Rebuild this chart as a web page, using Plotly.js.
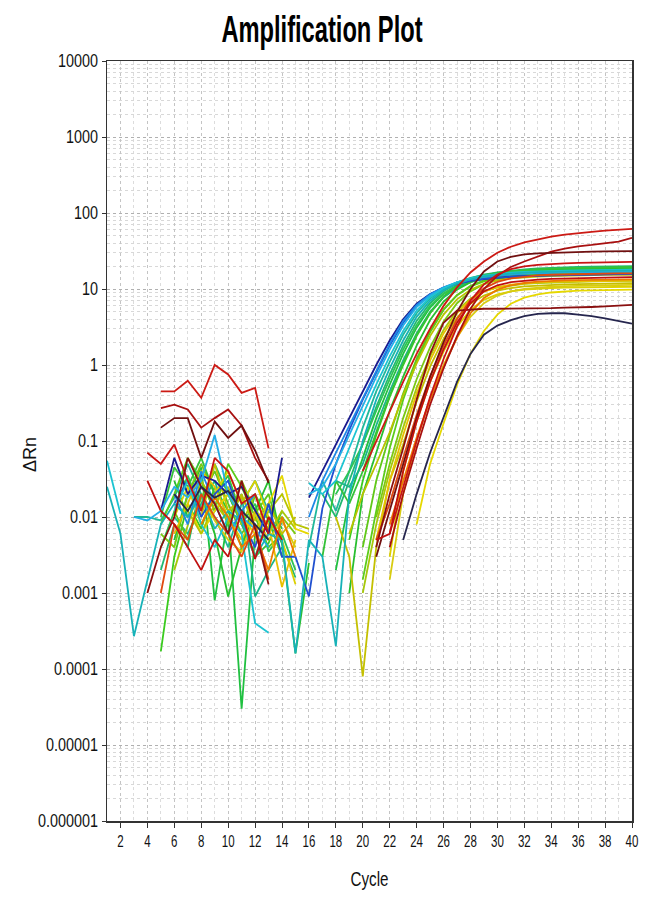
<!DOCTYPE html>
<html><head><meta charset="utf-8">
<script src="https://cdn.plot.ly/plotly-3.0.1.min.js"></script>
<style>html,body{margin:0;padding:0;background:#fff}#chart{width:653px;height:898px}</style>
</head><body><div id="chart"></div>
<script>
const _ = null;
const cycles = [1,2,3,4,5,6,7,8,9,10,11,12,13,14,15,16,17,18,19,20,21,22,23,24,25,26,27,28,29,30,31,32,33,34,35,36,37,38,39,40];
const xTickLabels = ['2','4','6','8','10','12','14','16','18','20','22','24','26','28','30','32','34','36','38','40'];
const yTickVals = [1e-6,1e-5,1e-4,1e-3,1e-2,1e-1,1,10,100,1000,10000];
const yTickText = ['0.000001','0.00001','0.0001','0.001','0.01','0.1','1','10','100','1000','10000'];

// ΔRn per well, cycles 1..40 (null = not plotted)
const w01 = [_,_,_,_,0.012,0.06,0.02,0.035,0.03,0.02, 0.025,0.012,0.006,0.06,_,0.018,0.04,0.09,0.2,0.46, 1.0,2.1,4.0,6.4,8.6,10.4,11.8,12.9,13.6,14.1, 14.5,14.8,15.0,15.2,15.3,15.4,15.5,15.6,15.7,15.8];
const w02 = [_,_,_,_,_,0.015,0.03,0.01,0.02,0.03, 0.009,0.004,0.015,0.003,0.003,0.0009,0.013,0.05,0.14,0.35, 0.8,1.8,3.6,6.0,8.3,10.2,11.7,12.8,13.6,14.1, 14.5,14.8,15.0,15.2,15.3,15.4,15.5,15.6,15.6,15.7];
const w03 = [_,_,_,_,_,0.02,0.008,0.04,0.015,0.006, 0.012,0.02,_,_,_,0.01,0.03,0.07,0.16,0.38, 0.85,1.9,3.8,6.2,8.5,10.5,12.2,13.4,14.3,15.0, 15.5,15.9,16.2,16.4,16.6,16.7,16.8,16.9,17.0,17.0];
const w04 = [_,_,0.01,0.009,0.012,0.025,0.018,0.03,0.12,0.02, 0.01,0.007,0.004,_,_,0.02,0.025,0.05,0.12,0.3, 0.7,1.6,3.3,5.8,8.2,10.4,12.2,13.6,14.6,15.3, 15.8,16.1,16.3,16.5,16.6,16.7,16.8,16.9,17.0,17.0];
const w05 = [0.055,0.011,_,_,_,0.012,0.03,0.008,0.004,0.01, 0.006,0.0004,0.0003,_,_,0.028,0.02,0.03,0.08,0.22, 0.55,1.3,2.8,5.2,7.8,10.2,12.2,13.8,15.0,15.8, 16.4,16.8,17.1,17.3,17.5,17.6,17.7,17.8,17.9,18.0];
const w06 = [0.025,0.006,0.00027,0.0015,0.008,0.015,0.01,0.02,0.007,0.012, 0.009,0.003,0.006,0.005,0.00016,0.005,0.003,0.0002,0.02,0.1, 0.35,0.9,2.1,4.3,7.0,9.6,11.8,13.4,14.6,15.4, 16.0,16.4,16.7,16.9,17.1,17.2,17.3,17.4,17.5,17.5];
const w07 = [_,_,0.01,0.01,0.009,0.018,0.05,0.02,0.01,0.004, 0.015,0.03,0.012,0.008,_,0.004,0.03,0.012,0.04,0.15, 0.45,1.1,2.5,4.8,7.5,10.0,12.2,14.0,15.3,16.2, 16.9,17.4,17.8,18.1,18.3,18.5,18.6,18.7,18.8,18.9];
const w08 = [_,_,_,_,0.002,0.008,0.004,0.03,0.012,0.02, 0.008,0.003,0.01,0.0045,0.0016,_,0.02,0.01,0.03,0.09, 0.28,0.75,1.8,3.8,6.5,9.3,11.8,13.8,15.4,16.6, 17.5,18.1,18.6,19.0,19.3,19.5,19.7,19.8,19.9,20.0];
const w09 = [_,_,_,_,_,0.005,0.02,0.045,0.0008,0.01, 0.00003,0.006,0.015,0.007,_,_,_,0.002,0.018,0.06, 0.2,0.55,1.4,3.1,5.7,8.6,11.2,13.3,14.9,16.0, 16.8,17.3,17.7,18.0,18.2,18.4,18.5,18.6,18.7,18.8];
const w10 = [_,_,_,_,0.00017,0.003,0.015,0.007,0.025,0.012, 0.004,0.02,0.009,0.003,_,_,_,_,0.005,0.03, 0.12,0.38,1.0,2.4,4.8,7.8,10.6,12.8,14.4,15.5, 16.2,16.7,17.1,17.4,17.6,17.8,17.9,18.0,18.1,18.2];
const w11 = [_,_,_,_,0.004,0.012,0.035,0.012,0.05,0.02, 0.008,0.015,0.0035,0.006,0.002,_,_,0.02,0.04,0.09, 0.25,0.65,1.6,3.4,6.0,8.7,11.0,12.7,13.8,14.6, 15.1,15.5,15.8,16.0,16.2,16.3,16.4,16.5,16.6,16.6];
const w12 = [_,_,_,_,_,0.01,0.006,0.015,0.03,0.009, 0.02,0.0009,0.002,0.004,_,_,_,0.03,0.025,0.05, 0.16,0.45,1.15,2.6,5.0,7.8,10.3,12.3,13.7,14.7, 15.4,15.9,16.2,16.5,16.7,16.8,16.9,17.0,17.1,17.1];
const w13 = [_,_,_,_,0.008,0.02,0.06,0.03,0.012,0.05, 0.025,0.01,0.004,0.006,_,_,_,_,_,0.0015, 0.012,0.08,0.35,1.1,2.7,5.3,8.3,11.0,13.0,14.4, 15.3,15.9,16.3,16.6,16.8,17.0,17.1,17.2,17.3,17.4];
const w14 = [_,_,_,_,_,0.03,0.01,0.02,0.006,0.0009, 0.004,0.012,0.03,0.0045,0.00016,0.0025,_,_,0.001,0.02, 0.07,0.25,0.7,1.8,3.9,6.8,9.8,12.3,14.2,15.5, 16.4,17.0,17.4,17.7,17.9,18.1,18.2,18.3,18.4,18.5];
const w15 = [_,_,_,_,0.006,0.004,0.02,0.05,0.02,0.008, 0.03,0.012,0.007,0.01,0.006,_,_,_,_,_, 0.01,0.05,0.2,0.65,1.7,3.7,6.5,9.3,11.6,13.2, 14.2,14.9,15.3,15.6,15.8,16.0,16.1,16.2,16.3,16.4];
const w16 = [_,_,_,_,_,0.012,0.005,0.018,0.04,0.015, 0.006,0.011,0.02,0.005,_,_,_,_,_,0.004, 0.03,0.12,0.42,1.2,2.8,5.4,8.3,10.8,12.6,13.8, 14.6,15.1,15.4,15.6,15.8,15.9,16.0,16.1,16.2,16.2];
const w17 = [_,_,_,_,0.01,0.045,0.025,0.06,0.02,0.035, 0.01,0.003,0.0045,0.012,_,_,0.003,0.03,0.015,0.04, 0.13,0.4,1.05,2.5,4.9,8.0,11.0,13.4,15.1,16.3, 17.1,17.7,18.2,18.5,18.8,19.0,19.2,19.3,19.4,19.5];
const w18 = [_,_,_,_,_,0.002,0.008,0.03,0.015,0.025, 0.008,0.02,0.006,0.012,0.007,_,_,_,_,0.001, 0.008,0.04,0.15,0.5,1.3,2.9,5.2,7.5,9.3,10.5, 11.2,11.7,12.0,12.2,12.4,12.5,12.6,12.7,12.8,12.8];
const w19 = [_,_,_,_,_,_,0.03,0.01,0.05,0.012, 0.018,0.009,0.015,0.006,0.01,_,_,0.01,0.003,0.00008, 0.004,0.03,0.09,0.33,0.95,2.2,4.2,6.4,8.2,9.5, 10.3,10.8,11.1,11.3,11.5,11.6,11.7,11.8,11.8,11.9];
const w20 = [_,_,_,_,_,0.01,0.025,0.008,0.02,0.04, 0.015,0.03,0.01,0.005,0.0013,_,_,_,_,_, _,0.003,0.04,0.18,0.6,1.5,3.2,5.3,7.2,8.5, 9.3,9.8,10.1,10.3,10.4,10.5,10.6,10.6,10.7,10.7];
const w21 = [_,_,_,_,_,_,0.015,0.006,0.012,0.02, 0.01,0.006,0.015,0.035,0.007,0.006,_,_,_,_, _,_,_,0.008,0.05,0.17,0.55,1.4,2.8,4.6, 6.4,7.7,8.5,9.0,9.3,9.5,9.6,9.7,9.8,9.8];
const w22 = [_,_,_,_,_,0.006,0.015,0.04,0.025,0.01, 0.005,0.012,0.008,0.0012,0.005,_,_,_,_,_, 0.005,0.03,0.12,0.42,1.15,2.6,4.8,7.2,9.2,10.6, 11.4,11.9,12.2,12.4,12.5,12.6,12.7,12.8,12.8,12.9];
const w23 = [_,_,_,_,_,0.02,0.012,0.006,0.015,0.009, 0.02,0.007,0.012,0.02,0.008,0.007,_,_,0.006,0.02, 0.05,0.13,0.4,1.05,2.4,4.6,7.3,9.8,11.7,13.0, 13.8,14.3,14.6,14.8,15.0,15.1,15.2,15.3,15.3,15.4];
const w24 = [_,_,_,_,_,_,_,0.02,0.009,0.005, 0.0035,0.011,0.005,0.009,0.004,_,_,_,_,_, _,0.0015,0.02,0.1,0.36,1.0,2.3,4.3,6.5,8.2, 9.3,10.0,10.4,10.7,10.9,11.0,11.1,11.2,11.2,11.3];
const w25 = [_,_,_,_,_,_,_,0.008,0.018,0.01, 0.004,0.006,0.002,0.01,0.003,_,_,_,_,_, _,0.008,0.03,0.11,0.35,0.95,2.3,4.8,7.6,9.8, 11.2,12.0,12.5,12.8,13.0,13.1,13.2,13.3,13.4,13.4];
const w26 = [_,_,_,_,0.001,0.008,0.005,0.02,0.01,0.006, 0.003,0.008,0.0015,_,_,_,_,_,_,_, 0.005,0.015,0.06,0.22,0.7,1.8,4.0,7.2,10.2,12.4, 13.8,14.6,15.1,15.4,15.6,15.8,15.9,16.0,16.1,16.1];
const w27 = [_,_,_,_,0.45,0.45,0.62,0.37,1.0,0.75, 0.43,0.5,0.08,_,_,_,_,_,_,0.04, 0.1,0.25,0.6,1.4,3.0,6.0,10.5,16.5,23,30, 36,41,45,49,52,54.5,56.5,58.5,60,62];
const w28 = [_,_,_,_,0.27,0.3,0.26,0.15,0.2,0.26, 0.16,0.06,0.03,_,_,_,_,_,_,_, _,0.004,0.02,0.08,0.3,0.9,2.4,5.5,10,15, 19.5,23,27,31,34,36.5,38,40,42,47];
const w29 = [_,_,_,_,0.15,0.2,0.2,0.06,0.18,0.11, 0.16,0.075,0.028,_,_,_,_,_,_,_, 0.003,0.012,0.05,0.2,0.7,2.0,5.0,10,17,23, 26.5,28.5,29.5,30,30.5,30.8,31,31.2,31.3,31.5];
const w30 = [_,_,_,0.07,0.05,0.09,0.03,0.012,0.06,0.04, 0.015,0.02,0.006,_,_,_,_,_,_,_, _,0.006,0.025,0.1,0.38,1.2,3.2,7.0,11.5,15.5, 18.2,19.8,20.8,21.4,21.8,22.1,22.3,22.5,22.7,22.8];
const w31 = [_,_,_,0.001,0.004,0.01,0.06,0.025,0.015,0.006, 0.03,0.007,0.0013,_,_,_,_,_,_,_, 0.004,0.02,0.08,0.35,1.4,3.6,5.2,5.4,5.5,5.5, 5.5,5.6,5.6,5.6,5.7,5.7,5.8,5.9,6.0,6.2];
const w32 = [_,_,_,_,_,0.02,0.012,0.025,0.018,0.022, 0.012,0.008,0.005,_,_,_,_,_,_,_, _,_,0.005,0.02,0.07,0.2,0.6,1.4,2.5,3.3, 3.9,4.4,4.7,4.8,4.8,4.6,4.4,4.1,3.8,3.5];
const w33 = [_,_,_,0.03,0.012,0.008,0.004,0.002,0.005,0.003, 0.012,0.0028,0.01,0.005,_,_,_,_,_,_, 0.005,0.006,0.04,0.18,0.6,1.6,3.6,6.5,9.3,11.2, 12.3,12.9,13.3,13.6,13.8,13.9,14.0,14.1,14.2,14.3];

// drawing order (back to front) and colours
const wells = [w07,w08,w09,w10,w11,w12,w13,w14,w15,w16,w17, w18,w19,w20,w21,w22,w23,w24, w01,w02,w03,w04,w05,w06, w25,w26,w27,w28,w29,w30,w31,w32,w33];
const wellColors = ['#20b89a','#22b870','#20c040','#3acb1e','#2ec455','#1bb58a','#5ccc1a','#28bf30','#7ac814','#60c818','#34c238',
  '#a6c80a','#c4c000','#dcd000','#e6d800','#e8c000','#b8c400','#d8cc10',
  '#1a1a8e','#2050d0','#1e88e5','#25aee8','#1cc4d2','#17b2b8',
  '#ec7a00','#e04a10','#cc1a14','#a81010','#701010','#c81414','#8a1010','#26264e','#c01010'];

const FONT = '"Liberation Sans",Arial,sans-serif';

const traces = wells.map((y, i) => ({
  x: cycles, y: y, type: 'scatter', mode: 'lines',
  line: {color: wellColors[i], width: 1.8},
  connectgaps: false, hoverinfo: 'skip'
}));

const minorVals = [];
for (let d = -6; d < 4; d++) for (let k = 2; k <= 9; k++) minorVals.push(k * Math.pow(10, d));

const layout = {
  width: 653, height: 898,
  margin: {l: 107, r: 21, t: 61, b: 77},
  paper_bgcolor: '#fff', plot_bgcolor: '#fff',
  showlegend: false,
  title: {text: '<b>Amplification Plot</b>', x: 322/653, xanchor: 'center', xref: 'container',
          y: 1 - 29/898, yanchor: 'middle', yref: 'container',
          font: {family: FONT, size: 37, color: '#000'}},
  xaxis: {
    range: [1, 40], tickmode: 'array', tickvals: xTickLabels.map(Number), ticktext: xTickLabels,
    ticks: 'outside', ticklen: 5, tickcolor: '#333',
    showline: true, linecolor: '#333', linewidth: 1.5, mirror: true,
    showgrid: true, gridcolor: '#c4c4c4', griddash: 'dot', zeroline: false,
    tickfont: {family: FONT, size: 16, color: '#111'},
    minor: {tickmode: 'array', tickvals: cycles, showgrid: true, gridcolor: '#dcdcdc', griddash: 'dot', ticks: ''},
    title: {text: 'Cycle', font: {family: FONT, size: 20, color: '#111'}, standoff: 23}
  },
  yaxis: {
    type: 'log', range: [-6, 4], tickmode: 'array', tickvals: yTickVals, ticktext: yTickText,
    ticks: 'outside', ticklen: 4, tickcolor: '#333',
    showline: true, linecolor: '#333', linewidth: 1.5, mirror: true,
    showgrid: true, gridcolor: '#b0b0b0', griddash: 'dot', zeroline: false,
    tickfont: {family: FONT, size: 18, color: '#111'},
    minor: {tickmode: 'array', tickvals: minorVals, showgrid: true, gridcolor: '#d8d8d8', griddash: 'dot', ticks: ''}
  },
  annotations: [{
    text: 'ΔRn', textangle: -90, xref: 'paper', yref: 'paper',
    x: (30 - 107) / 525, y: 1 - (455 - 61) / 760, xanchor: 'center', yanchor: 'middle',
    showarrow: false, font: {family: FONT, size: 18, color: '#111'}
  }]
};

// the reference lettering is horizontally condensed: squeeze text about its anchor
function squeeze(sel, s) {
  document.querySelectorAll(sel).forEach(el => {
    const x = parseFloat(el.getAttribute('x')) || 0;
    const y = parseFloat(el.getAttribute('y')) || 0;
    const t = el.getAttribute('transform') || '';
    el.setAttribute('transform', t + ' translate(' + x + ',' + y + ') scale(' + s + ',1) translate(' + (-x) + ',' + (-y) + ')');
  });
}

Plotly.newPlot('chart', traces, layout, {displayModeBar: false, staticPlot: true}).then(() => {
  squeeze('.gtitle', 0.64);
  squeeze('.xtick text', 0.72);
  squeeze('.ytick text', 0.8);
  squeeze('.xtitle', 0.76);
});
</script>
</body></html>
